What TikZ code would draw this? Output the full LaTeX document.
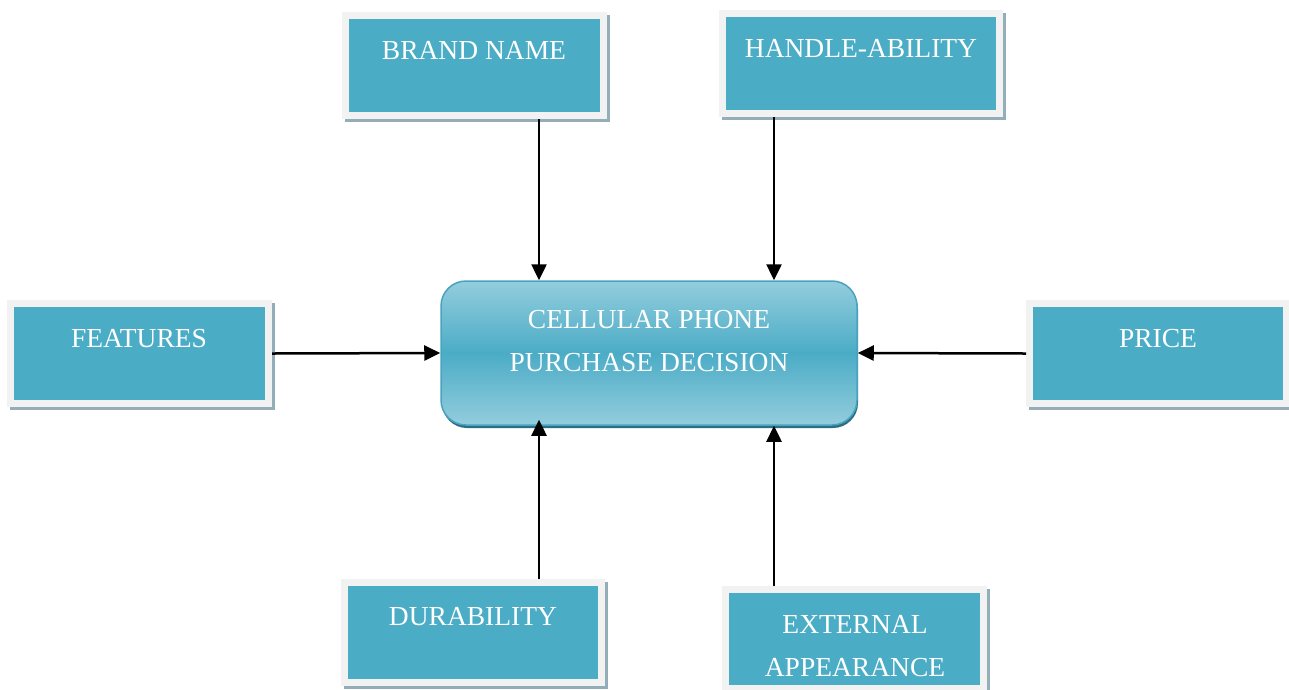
\documentclass[tikz,border=0pt]{standalone}
\usepackage{fontspec}
\setmainfont{Liberation Serif}
\usetikzlibrary{arrows.meta}
\definecolor{tealbox}{HTML}{4BACC6}
\definecolor{framecol}{HTML}{F2F2F2}
\definecolor{shadcol}{HTML}{93AEB8}
\definecolor{clight}{HTML}{93CDDD}
\definecolor{cborder}{HTML}{4AA3BE}
\definecolor{cshadow}{HTML}{2A6F82}
\begin{document}
\begin{tikzpicture}[x=1pt,y=-1pt,
  factor/.style={rectangle, fill=tealbox, draw=framecol, line width=7pt,
    minimum width=258pt, minimum height=100pt, inner sep=0pt,
    preaction={draw=shadcol, fill=shadcol, line width=7pt, transform canvas={xshift=3pt,yshift=-3pt}}},
  central/.style={rectangle, rounded corners=25pt, minimum width=416pt, minimum height=144pt,
    top color=clight, bottom color=clight, middle color=tealbox, draw=cborder, line width=1.5pt,
    preaction={fill=cshadow, transform canvas={xshift=1pt,yshift=-3pt}}},
  txt/.style={font=\fontsize{27.5}{43}\selectfont, text=white, align=center, inner sep=0pt},
  arr/.style={-{Triangle[length=16pt,width=15pt]}, line width=2.5pt}]
\fill[white] (0,0) rectangle (1289,689);
\useasboundingbox (0,0) rectangle (1289,689);
% factor boxes
\node[factor] (bn) at (474.5,65.5) {};
\node[factor, minimum width=277pt] (ha) at (861,63.5) {};
\node[factor] (fe) at (139.5,353.5) {};
\node[factor, minimum width=257pt] (pr) at (1158,353.5) {};
\node[factor, minimum width=257pt] (du) at (473,632.5) {};
\node[factor, minimum height=99pt] (ea) at (854.5,639) {};
\node[central] (c) at (649,353) {};
% texts
\node[txt] (bnt) at (474,50) {BRAND NAME};
\node[txt] (hat) at (861,48) {HANDLE-ABILITY};
\node[txt] (fet) at (139,339) {FEATURES};
\node[txt] (prt) at (1158,339) {PRICE};
\node[txt] (dut) at (473,617) {DURABILITY};
\node[txt] (eat) at (855,646) {EXTERNAL\\APPEARANCE};
\node[txt] (ct) at (649,341.5) {CELLULAR PHONE\\PURCHASE DECISION};
% connectors
\coordinate (xl) at (539,0);
\coordinate (xr) at (774,0);
\draw[arr] (bn.south -| xl) -- (c.north -| xl);
\draw[arr] (ha.south -| xr) -- (c.north -| xr);
\draw[arr] (fe.east) -- (c.west);
\draw[arr] (pr.west) -- (c.east);
\draw[arr] (du.north -| xl) -- ([yshift=6pt]c.south -| xl);
\draw[arr] (ea.north -| xr) -- (c.south -| xr);
\end{tikzpicture}
\end{document}
